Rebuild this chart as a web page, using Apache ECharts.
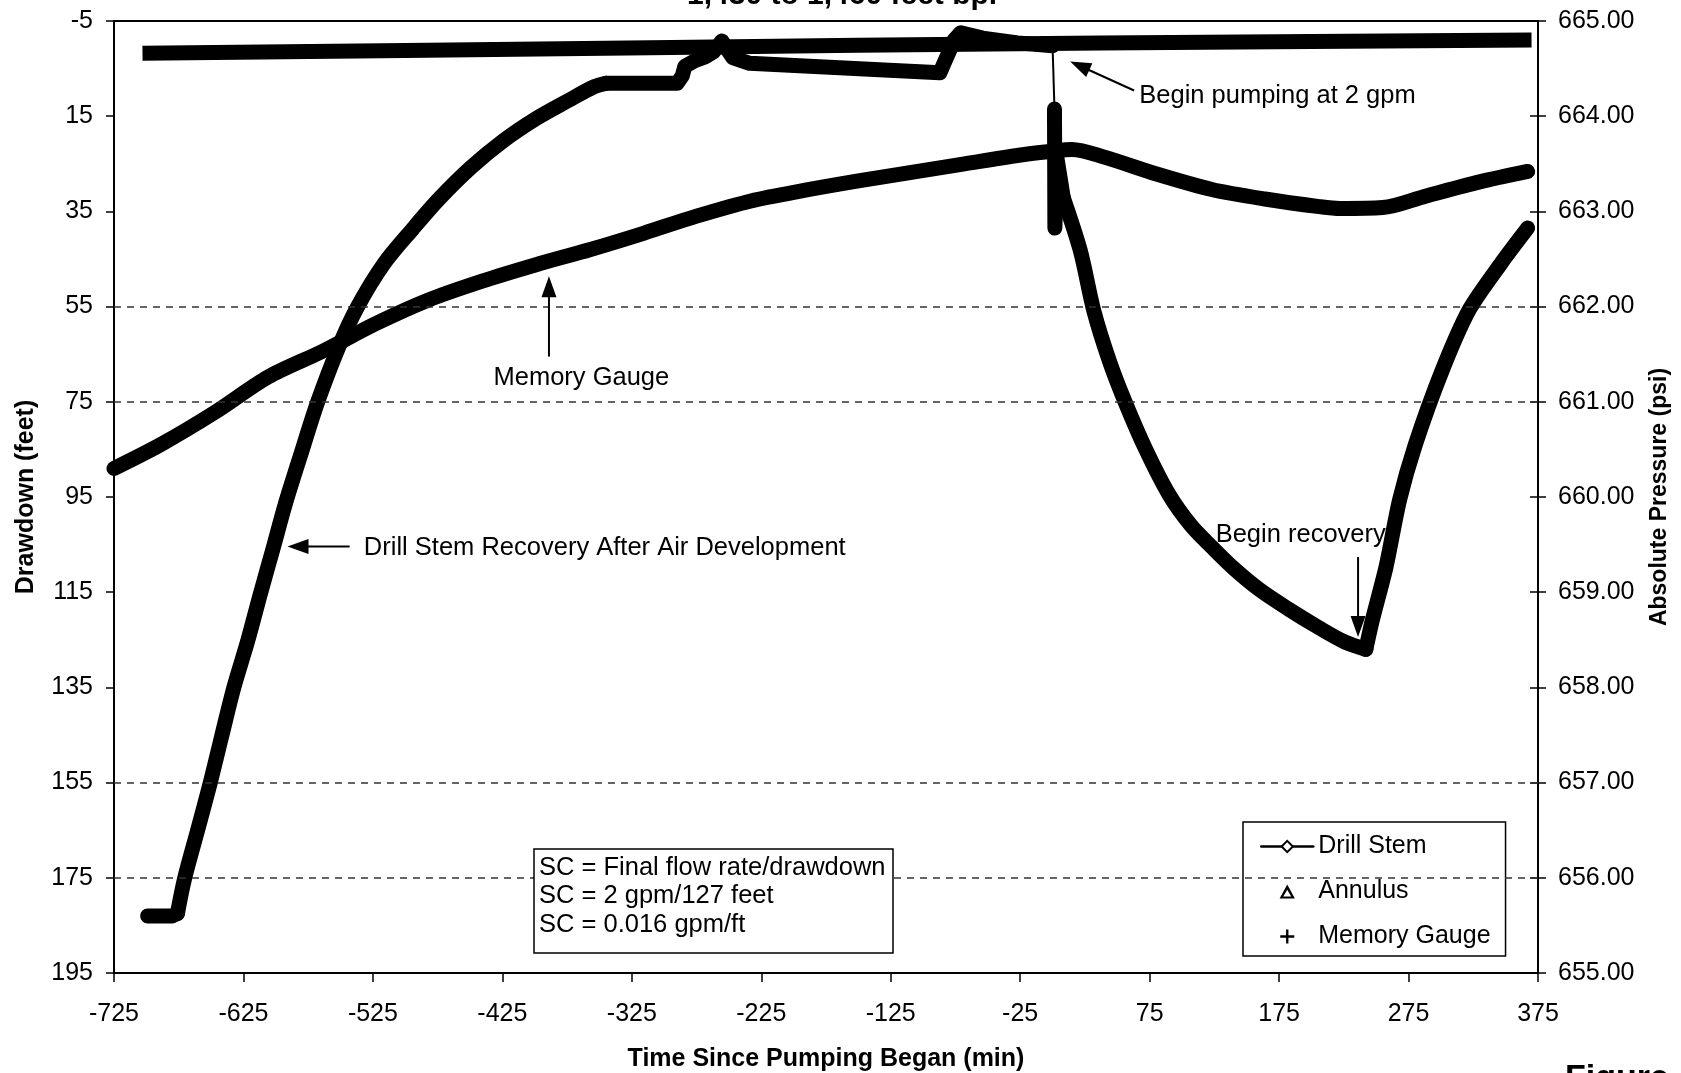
<!DOCTYPE html>
<html>
<head>
<meta charset="utf-8">
<script src="https://cdn.jsdelivr.net/npm/echarts@6/dist/echarts.min.js"></script>
<style>
  html, body { margin: 0; padding: 0; background: #fff; }
  #chart { width: 1681px; height: 1073px; }
</style>
</head>
<body>
<div id="chart"></div>
<script>
// Axis ticks
const timeTicks = [-725, -625, -525, -425, -325, -225, -125, -25, 75, 175, 275, 375];
const drawdownTicks = [-5, 15, 35, 55, 75, 95, 115, 135, 155, 175, 195];
const drawdownGridLines = [55, 75, 155, 175];

// Drill stem drawdown (ft) while recovering after air development: [minutes, feet]
const drillStemFlat = [[-699, 183], [-680, 183], [-676, 182.5]];
const drillStemRise = [
  [-676, 182.5], [-670.6, 175.3], [-660.6, 165.2], [-650.7, 155.1], [-641.6, 145],
  [-632.5, 135.1], [-621.7, 125.2], [-611.8, 115.2], [-601.8, 105.5], [-592.7, 96.5],
  [-581.1, 86.4], [-567.9, 75.2], [-551.3, 63.4], [-537.2, 55.2], [-516.5, 46.0],
  [-494, 38.6], [-474, 32.4], [-449, 25.7], [-424, 20.1], [-399, 15.5], [-374, 11.7],
  [-354, 8.8], [-345, 8.1]
];
const drillStemTop = [
  [-345, 8.1], [-290, 8.1], [-286, 6.5], [-284, 4.5], [-276, 3.3], [-268, 2.5],
  [-262, 1.5], [-255.5, -0.8], [-247, 2.7], [-234, 3.9], [-180, 4.6], [-130, 5.3],
  [-87, 5.85], [-84, 4.0], [-80, 1.5], [-76, -1.0], [-71, -2.5], [-54, -1.4],
  [-27, -0.4], [0, 0.2]
];
// Jump in the drill stem reading when the pump started
const drillStemStep = [[0, 0.2], [1.5, 13.5]];
// Drawdown during pumping at 2 gpm
const drillStemStart = [[1.5, 13.5], [1.8, 38.5], [3.5, 24], [8.3, 32.1]];
const drillStemPumping = [
  [8.3, 32.1], [21.5, 43.3], [32, 56], [44, 66.5], [56, 75], [72, 85], [90, 94.5],
  [107, 101], [123, 105.5], [140, 110], [160, 114.5], [182, 118.5], [206, 122.5],
  [226, 125.5], [242, 127]
];
// Recovery after the pump was stopped
const drillStemRecovery = [
  [242, 127], [247, 120.9], [257.6, 109.7], [268, 95.7], [280, 84.2], [301, 68.4],
  [322, 55.6], [346.5, 45.9], [367, 38.5]
];
// Annulus drawdown (ft)
const annulus = [
  [-703, 1.8], [-500, 1.2], [-311, 0.6], [-150, 0.1], [37, -0.4], [200, -0.7], [370, -1.0]
];
// Memory gauge absolute pressure (psi)
const memoryGauge = [
  [-725, 660.30], [-689, 660.55], [-647, 660.89], [-606, 661.26], [-564, 661.53],
  [-523, 661.82], [-482, 662.07], [-440, 662.27], [-399, 662.44], [-357, 662.60],
  [-316, 662.77], [-275, 662.95], [-233, 663.11], [-192, 663.22], [-150, 663.32],
  [-109, 663.41], [-68, 663.50], [-26, 663.59], [-1, 663.63], [15, 663.65],
  [40, 663.57], [81, 663.39], [123, 663.23], [164, 663.13], [206, 663.05],
  [222, 663.03], [255, 663.04], [288, 663.16], [330, 663.31], [367, 663.42]
];

const finalDrawdown = drillStemPumping[drillStemPumping.length - 1][1];
const scLines = [
  'SC = Final flow rate/drawdown',
  'SC = 2 gpm/' + finalDrawdown + ' feet',
  'SC = 0.016 gpm/ft'
];

const FONT = '"Liberation Sans", Arial, Helvetica, sans-serif';
const BLACK = '#000';
const BAND = 15;

const chart = echarts.init(document.getElementById('chart'), null, { renderer: 'canvas' });

function band(name, data, opts) {
  opts = opts || {};
  return {
    name, type: 'line', data, xAxisIndex: 0, yAxisIndex: opts.yAxisIndex || 0,
    symbol: opts.symbol || 'none',
    showSymbol: false,
    smooth: opts.smooth || false,
    lineStyle: { color: BLACK, width: opts.width || BAND, cap: opts.cap || 'round', join: 'round' },
    itemStyle: { color: BLACK },
    emphasis: { disabled: true },
    silent: true,
    animation: false,
    z: 3
  };
}

const annulusSeries = band('Annulus', annulus, { symbol: 'emptyTriangle', cap: 'butt' });
annulusSeries.markLine = {
  silent: true,
  animation: false,
  symbol: ['none', 'none'],
  label: { show: false },
  lineStyle: { type: [7, 6], color: '#333', width: 1.5 },
  data: drawdownGridLines.map(v => ({ yAxis: v }))
};

// hollow triangle and plus markers for the key
const TRIANGLE_ICON = 'path://M6,0 L12,11 L0,11 Z M6,4.2 L2.9,9.5 L9.1,9.5 Z';
const PLUS_ICON = 'path://M5,0 L7,0 L7,5 L12,5 L12,7 L7,7 L7,12 L5,12 L5,7 L0,7 L0,5 L5,5 Z';

const option = {
  backgroundColor: '#fff',
  animation: false,
  title: {
    text: '1,430 to 1,460 feet bpl',
    left: 682,
    top: -24,
    textStyle: { fontFamily: FONT, fontSize: 30, fontWeight: 'bold', color: BLACK }
  },
  grid: {
    left: 114, right: 143, top: 21, bottom: 100,
    show: true, borderColor: BLACK, borderWidth: 2,
    containLabel: false, outerBoundsMode: 'none'
  },
  legend: {
    show: true,
    orient: 'vertical',
    left: 1243, top: 822,
    padding: [12, 15, 7, 17],
    itemGap: 20,
    itemWidth: 52, itemHeight: 14,
    borderColor: BLACK, borderWidth: 1.5, borderRadius: 0,
    backgroundColor: '#fff',
    selectedMode: false,
    textStyle: { fontFamily: FONT, fontSize: 25, color: BLACK },
    data: [
      { name: 'Drill Stem', lineStyle: { width: 2.5, color: BLACK }, itemStyle: { color: BLACK } },
      { name: 'Annulus', icon: TRIANGLE_ICON, itemStyle: { color: BLACK, borderWidth: 0 } },
      { name: 'Memory Gauge', icon: PLUS_ICON, itemStyle: { color: BLACK, borderWidth: 0 } }
    ]
  },
  xAxis: {
    type: 'value', min: -725, max: 375, position: 'bottom',
    axisLine: { show: true, onZero: false, lineStyle: { color: BLACK, width: 2 } },
    axisTick: { show: true, length: 9, lineStyle: { color: BLACK, width: 1.5 }, customValues: timeTicks },
    axisLabel: { customValues: timeTicks, margin: 29, color: BLACK, fontSize: 25, fontFamily: FONT },
    splitLine: { show: false },
    name: 'Time Since Pumping Began (min)',
    nameLocation: 'middle', nameGap: 74, nameMoveOverlap: false,
    nameTextStyle: { fontFamily: FONT, fontSize: 25, fontWeight: 'bold', color: BLACK }
  },
  yAxis: [
    {
      type: 'value', inverse: true, min: -5, max: 195, position: 'left',
      axisLine: { show: true, onZero: false, lineStyle: { color: BLACK, width: 2 } },
      axisTick: { show: true, length: 8, lineStyle: { color: BLACK, width: 1.5 }, customValues: drawdownTicks },
      axisLabel: { customValues: drawdownTicks, margin: 21, color: BLACK, fontSize: 25, fontFamily: FONT },
      splitLine: { show: false },
      name: 'Drawdown (feet)',
      nameLocation: 'middle', nameRotate: 90, nameGap: 75, nameMoveOverlap: false,
      nameTextStyle: { fontFamily: FONT, fontSize: 25, fontWeight: 'bold', color: BLACK }
    },
    {
      type: 'value', min: 655, max: 665, interval: 1, position: 'right',
      axisLine: { show: true, onZero: false, lineStyle: { color: BLACK, width: 2 } },
      axisTick: { show: true, length: 8, lineStyle: { color: BLACK, width: 1.5 } },
      axisLabel: { margin: 20, color: BLACK, fontSize: 25, fontFamily: FONT, formatter: v => v.toFixed(2) },
      splitLine: { show: false },
      name: 'Absolute Pressure (psi)',
      nameLocation: 'middle', nameRotate: 90, nameGap: 110, nameMoveOverlap: false,
      nameTextStyle: { fontFamily: FONT, fontSize: 23, fontWeight: 'bold', color: BLACK }
    },
    {
      // inner half of the crossing ticks on the pressure axis
      type: 'value', min: 655, max: 665, interval: 1, position: 'right',
      axisLine: { show: false, onZero: false },
      axisTick: { show: true, inside: true, length: 8, lineStyle: { color: BLACK, width: 1.5 } },
      axisLabel: { show: false },
      splitLine: { show: false }
    }
  ],
  series: [
    band('Drill Stem', drillStemFlat, { symbol: 'emptyDiamond' }),
    band('Drill Stem', drillStemRise, { symbol: 'emptyDiamond', smooth: 0.3 }),
    band('Drill Stem', drillStemTop, { symbol: 'emptyDiamond' }),
    band('Drill Stem', drillStemStep, { symbol: 'emptyDiamond', width: 2, cap: 'butt' }),
    band('Drill Stem', drillStemStart, { symbol: 'emptyDiamond' }),
    band('Drill Stem', drillStemPumping, { symbol: 'emptyDiamond', smooth: 0.3 }),
    band('Drill Stem', drillStemRecovery, { symbol: 'emptyDiamond', smooth: 0.25 }),
    annulusSeries,
    band('Memory Gauge', memoryGauge, { yAxisIndex: 1, smooth: 0.3 })
  ]
};

chart.setOption(option);

// Callouts: text and arrows placed in time/drawdown units
const callouts = [
  { text: 'Begin pumping at 2 gpm', at: [67, 10.7], align: 'left', tail: [63, 9.6], head: [13.6, 3.5] },
  { text: 'Memory Gauge', at: [-364, 70.0], align: 'center', tail: [-389, 65.5], head: [-389, 48.6] },
  { text: 'Drill Stem Recovery After Air Development', at: [-532, 105.8], align: 'left', tail: [-543, 105.4], head: [-591, 105.4] },
  { text: 'Begin recovery', at: [126, 103.0], align: 'left', tail: [236, 107.6], head: [236, 124.4] }
];

function toPx(p) {
  return chart.convertToPixel({ xAxisIndex: 0, yAxisIndex: 0 }, p);
}

function arrowGraphics(from, to, headLen, headWidth) {
  const dx = to[0] - from[0], dy = to[1] - from[1];
  const len = Math.hypot(dx, dy);
  const ux = dx / len, uy = dy / len;
  const bx = to[0] - ux * headLen, by = to[1] - uy * headLen;
  const px = -uy * headWidth / 2, py = ux * headWidth / 2;
  return [
    { type: 'line', z: 100, shape: { x1: from[0], y1: from[1], x2: bx + ux, y2: by + uy },
      style: { stroke: BLACK, lineWidth: 2 } },
    { type: 'polygon', z: 100, shape: { points: [[to[0], to[1]], [bx + px, by + py], [bx - px, by - py]] },
      style: { fill: BLACK } }
  ];
}

const graphics = [];
callouts.forEach(c => {
  const a = toPx(c.at);
  graphics.push({
    type: 'text', z: 100, x: a[0], y: a[1],
    style: { text: c.text, font: '25.5px ' + FONT, fill: BLACK, align: c.align, verticalAlign: 'middle' }
  });
  graphics.push(...arrowGraphics(toPx(c.tail), toPx(c.head), 21, 15));
});

// Specific capacity note
graphics.push({
  type: 'group', z: 100,
  children: [
    { type: 'rect', z: 100, shape: { x: 534, y: 849, width: 359, height: 104 },
      style: { fill: '#fff', stroke: BLACK, lineWidth: 1.5 } },
    { type: 'text', z: 101, x: 539, y: 853.5,
      style: { text: scLines.join('\n'), font: '25.5px ' + FONT, fill: BLACK, lineHeight: 28.4,
               align: 'left', verticalAlign: 'top' } }
  ]
});

// Figure caption at the page corner
graphics.push({
  type: 'text', z: 100, x: 1565, y: 1062,
  style: { text: 'Figure 4', font: 'bold 34px ' + FONT, fill: BLACK, align: 'left', verticalAlign: 'top' }
});

chart.setOption({ graphic: graphics });
</script>
</body>
</html>
